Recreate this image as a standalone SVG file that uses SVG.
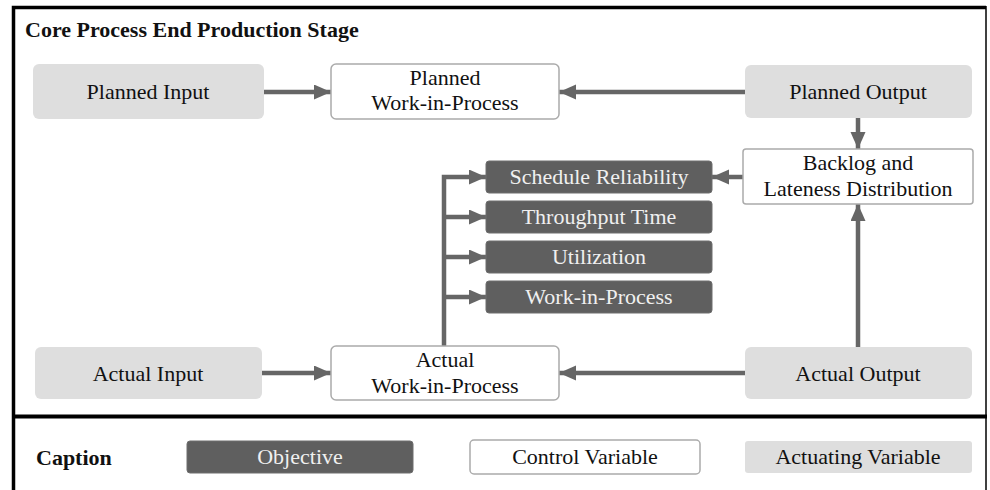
<svg xmlns="http://www.w3.org/2000/svg" width="990" height="490" viewBox="0 0 990 490">
<style>
text{font-family:'Liberation Serif','Times New Roman',serif;font-size:22px;fill:#111;text-anchor:middle}
.b{font-weight:bold;text-anchor:start}
.light{fill:#dedede}
.ctrl{fill:#fff;stroke:#ababab;stroke-width:1.5}
.obj{fill:#5f5f5f;stroke:#6e6e6e;stroke-width:1}
.ot{fill:#f0f0f0}
.c{fill:none;stroke:#666;stroke-width:4.5;marker-end:url(#ah)}
</style>
<defs>
<marker id="ah" markerUnits="userSpaceOnUse" markerWidth="18" markerHeight="16" refX="17" refY="7.5" orient="auto" viewBox="0 0 18 16">
<path d="M0,0 L17,7.5 L0,15 z" fill="#666"/>
</marker>
</defs>
<rect width="990" height="490" fill="#fff"/>
<g id="frame">
<path d="M13.5,492 V7.5 H986" fill="none" stroke="#000" stroke-width="3.5"/>
<line x1="986" y1="6" x2="986" y2="492" stroke="#000" stroke-width="1.5"/>
<line x1="12" y1="416.5" x2="987" y2="416.5" stroke="#000" stroke-width="4"/>
<text class="b" x="25" y="37">Core Process End Production Stage</text>
<text class="b" x="36" y="465">Caption</text>
</g>
<g id="connectors">
<path class="c" d="M264,92 H331"/>
<path class="c" d="M745,92 H559"/>
<path class="c" d="M858,118 V149"/>
<path class="c" d="M743,177 H712"/>
<path class="c" d="M858,347 V204"/>
<path class="c" d="M262,373 H331"/>
<path class="c" d="M745,373 H559"/>
<path class="c" d="M444,346 V177 H486"/>
<path class="c" d="M444,217 H486"/>
<path class="c" d="M444,257 H486"/>
<path class="c" d="M444,297 H486"/>
</g>
<g id="planned-input"><rect class="light" x="33" y="64" width="231" height="55" rx="6"/><text x="148" y="99">Planned Input</text></g>
<g id="planned-wip"><rect class="ctrl" x="331" y="64" width="228" height="55" rx="5"/><text x="445" y="85">Planned</text><text x="445" y="110">Work-in-Process</text></g>
<g id="planned-output"><rect class="light" x="745" y="65" width="227" height="53" rx="6"/><text x="858" y="99">Planned Output</text></g>
<g id="backlog"><rect class="ctrl" x="743" y="149" width="230" height="55" rx="3"/><text x="858" y="170">Backlog and</text><text x="858" y="196">Lateness Distribution</text></g>
<g id="schedule-reliability"><rect class="obj" x="486" y="161" width="226" height="32" rx="3"/><text class="ot" x="599" y="184">Schedule Reliability</text></g>
<g id="throughput-time"><rect class="obj" x="486" y="201" width="226" height="32" rx="3"/><text class="ot" x="599" y="224">Throughput Time</text></g>
<g id="utilization"><rect class="obj" x="486" y="241" width="226" height="32" rx="3"/><text class="ot" x="599" y="264">Utilization</text></g>
<g id="work-in-process"><rect class="obj" x="486" y="281" width="226" height="32" rx="3"/><text class="ot" x="599" y="304">Work-in-Process</text></g>
<g id="actual-input"><rect class="light" x="35" y="347" width="227" height="52" rx="6"/><text x="148" y="381">Actual Input</text></g>
<g id="actual-wip"><rect class="ctrl" x="331" y="346" width="228" height="54" rx="5"/><text x="445" y="367">Actual</text><text x="445" y="393">Work-in-Process</text></g>
<g id="actual-output"><rect class="light" x="745" y="347" width="227" height="52" rx="6"/><text x="858" y="381">Actual Output</text></g>
<g id="legend-objective"><rect class="obj" x="187" y="441" width="226" height="32" rx="3"/><text class="ot" x="300" y="464">Objective</text></g>
<g id="legend-control"><rect class="ctrl" x="470" y="440" width="230" height="34" rx="4"/><text x="585" y="464">Control Variable</text></g>
<g id="legend-actuating"><rect class="light" x="745" y="441" width="227" height="32" rx="3"/><text x="858" y="464">Actuating Variable</text></g>
</svg>
